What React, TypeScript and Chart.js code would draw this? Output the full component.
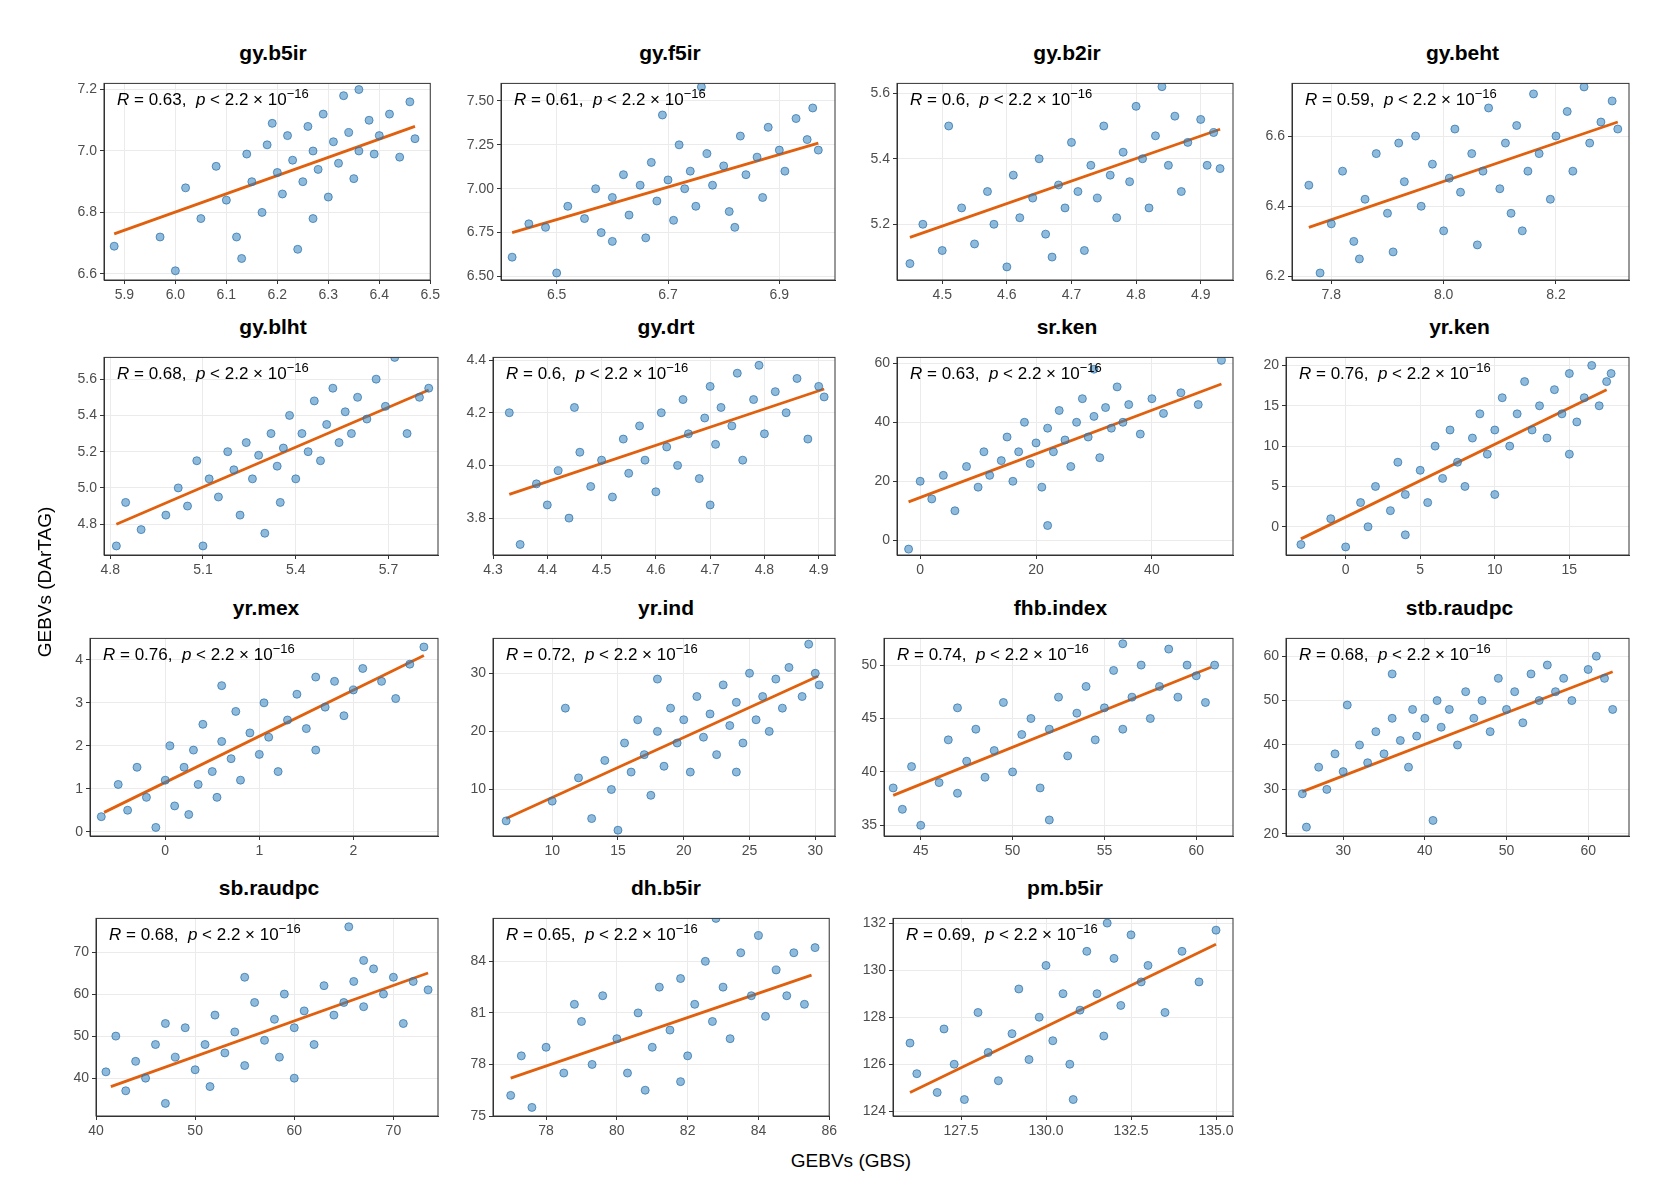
import React, { useEffect, useRef } from "react";
import { Chart, registerables } from "chart.js";
Chart.register(...registerables);

const titles = ["gy.b5ir","gy.f5ir","gy.b2ir","gy.beht","gy.blht","gy.drt","sr.ken","yr.ken","yr.mex","yr.ind","fhb.index","stb.raudpc","sb.raudpc","dh.b5ir","pm.b5ir"];
const rValues = ["0.63","0.61","0.6","0.59","0.68","0.6","0.63","0.76","0.76","0.72","0.74","0.68","0.68","0.65","0.69"];
const xRanges = [[5.86,6.5],[6.4,7.0],[4.43,4.95],[7.73,8.33],[4.78,5.86],[4.3,4.93],[-4,54],[-4,19],[-0.8,2.9],[5.5,31.5],[43,62],[23,65],[40,74.5],[76.5,86],[125.5,135.5]];
const yRanges = [[6.58,7.22],[6.48,7.6],[5.03,5.63],[6.19,6.75],[4.63,5.72],[3.66,4.41],[-5,62],[-3.5,21],[-0.1,4.5],[2,36],[34,52.5],[19.5,64],[31,78],[75,86.5],[123.8,132.2]];
const xTicks = [[5.9,6.0,6.1,6.2,6.3,6.4,6.5],[6.5,6.7,6.9],[4.5,4.6,4.7,4.8,4.9],[7.8,8.0,8.2],[4.8,5.1,5.4,5.7],[4.3,4.4,4.5,4.6,4.7,4.8,4.9],[0,20,40],[0,5,10,15],[0,1,2],[10,15,20,25,30],[45,50,55,60],[30,40,50,60],[40,50,60,70],[78,80,82,84,86],[127.5,130,132.5,135]];
const yTicks = [[6.6,6.8,7.0,7.2],[6.5,6.75,7.0,7.25,7.5],[5.2,5.4,5.6],[6.2,6.4,6.6],[4.8,5.0,5.2,5.4,5.6],[3.8,4.0,4.2,4.4],[0,20,40,60],[0,5,10,15,20],[0,1,2,3,4],[10,20,30],[35,40,45,50],[20,30,40,50,60],[40,50,60,70],[75,78,81,84],[124,126,128,130,132]];
const xDecimals = [1,1,1,1,1,1,0,0,0,0,0,0,0,0,1];
const yDecimals = [1,2,1,1,1,1,0,0,0,0,0,0,0,0,0];
const fitLines = [[5.88,6.73,6.47,7.08],[6.42,6.75,6.97,7.26],[4.45,5.16,4.93,5.49],[7.76,6.34,8.31,6.64],[4.82,4.8,5.83,5.54],[4.33,3.89,4.91,4.29],[-2,13,52,53],[-3,-1.5,17.5,17],[-0.65,0.45,2.75,4.1],[6.5,5,30.2,29.5],[43.5,37.8,60.8,49.8],[25,29.5,63,56.5],[41.5,38,73.5,65],[77,77.2,85.5,83.2],[126,124.8,135,131.1]];

const pts1 = [5.88,6.69,5.97,6.72,6.0,6.61,6.02,6.88,6.05,6.78,6.08,6.95,6.1,6.84,6.12,6.72,6.14,6.99,6.15,6.9,6.17,6.8,6.18,7.02,6.2,6.93,6.21,6.86,6.22,7.05,6.23,6.97,6.24,6.68,6.25,6.9,6.26,7.08,6.27,7.0,6.28,6.94,6.29,7.12,6.3,6.85,6.31,7.03,6.32,6.96,6.33,7.18,6.34,7.06,6.35,6.91,6.36,7.0,6.38,7.1,6.39,6.99,6.4,7.05,6.42,7.12,6.44,6.98,6.46,7.16,6.47,7.04,6.19,7.09,6.13,6.65,6.27,6.78,6.36,7.2];
const pts2 = [6.42,6.61,6.45,6.8,6.48,6.78,6.5,6.52,6.52,6.9,6.55,6.83,6.57,7.0,6.58,6.75,6.6,6.95,6.62,7.08,6.63,6.85,6.65,7.02,6.66,6.72,6.67,7.15,6.68,6.93,6.7,7.05,6.71,6.82,6.72,7.25,6.73,7.0,6.74,7.1,6.75,6.9,6.76,7.58,6.77,7.2,6.78,7.02,6.8,7.13,6.81,6.87,6.83,7.3,6.84,7.08,6.86,7.18,6.87,6.95,6.88,7.35,6.9,7.22,6.91,7.1,6.93,7.4,6.95,7.28,6.96,7.46,6.97,7.22,6.69,7.42,6.82,6.78,6.6,6.7];
const pts3 = [4.45,5.08,4.47,5.2,4.5,5.12,4.51,5.5,4.53,5.25,4.55,5.14,4.57,5.3,4.58,5.2,4.6,5.07,4.61,5.35,4.62,5.22,4.64,5.28,4.65,5.4,4.66,5.17,4.68,5.32,4.69,5.25,4.7,5.45,4.71,5.3,4.72,5.12,4.73,5.38,4.74,5.28,4.75,5.5,4.76,5.35,4.77,5.22,4.78,5.42,4.79,5.33,4.8,5.56,4.81,5.4,4.82,5.25,4.83,5.47,4.85,5.38,4.86,5.53,4.87,5.3,4.88,5.45,4.9,5.52,4.91,5.38,4.92,5.48,4.93,5.37,4.84,5.62,4.67,5.1];
const pts4 = [7.76,6.46,7.78,6.21,7.8,6.35,7.82,6.5,7.84,6.3,7.86,6.42,7.88,6.55,7.9,6.38,7.91,6.27,7.93,6.47,7.95,6.6,7.96,6.4,7.98,6.52,8.0,6.33,8.01,6.48,8.02,6.62,8.03,6.44,8.05,6.55,8.06,6.29,8.07,6.5,8.08,6.68,8.1,6.45,8.11,6.58,8.12,6.38,8.13,6.63,8.15,6.5,8.16,6.72,8.17,6.55,8.19,6.42,8.2,6.6,8.22,6.67,8.23,6.5,8.25,6.74,8.26,6.58,8.28,6.64,8.3,6.7,8.31,6.62,7.92,6.58,8.14,6.33,7.85,6.25];
const pts5 = [4.82,4.68,4.85,4.92,4.9,4.77,4.98,4.85,5.02,5.0,5.05,4.9,5.08,5.15,5.1,4.68,5.12,5.05,5.15,4.95,5.18,5.2,5.2,5.1,5.22,4.85,5.24,5.25,5.26,5.05,5.28,5.18,5.3,4.75,5.32,5.3,5.34,5.12,5.36,5.22,5.38,5.4,5.4,5.05,5.42,5.3,5.44,5.2,5.46,5.48,5.48,5.15,5.5,5.35,5.52,5.55,5.54,5.25,5.56,5.42,5.58,5.3,5.6,5.5,5.63,5.38,5.66,5.6,5.69,5.45,5.72,5.72,5.76,5.3,5.8,5.5,5.83,5.55,5.35,4.92];
const pts6 = [4.33,4.2,4.35,3.7,4.38,3.93,4.4,3.85,4.42,3.98,4.44,3.8,4.46,4.05,4.48,3.92,4.5,4.02,4.52,3.88,4.54,4.1,4.55,3.97,4.57,4.15,4.58,4.02,4.6,3.9,4.61,4.2,4.62,4.07,4.64,4.0,4.65,4.25,4.66,4.12,4.68,3.95,4.69,4.18,4.7,4.3,4.71,4.08,4.72,4.22,4.74,4.15,4.75,4.35,4.76,4.02,4.78,4.25,4.79,4.38,4.8,4.12,4.82,4.28,4.84,4.2,4.86,4.33,4.88,4.1,4.9,4.3,4.91,4.26,4.45,4.22,4.7,3.85];
const pts7 = [-2,-3,0,20,2,14,4,22,6,10,8,25,10,18,11,30,12,22,14,27,15,35,16,20,17,30,18,40,19,26,20,33,21,18,22,38,23,30,24,44,25,34,26,25,27,40,28,48,29,35,30,42,31,28,32,45,33,38,34,52,35,40,36,46,38,36,40,48,42,43,45,50,48,46,52,61,22,5,30,58];
const pts8 = [-3,-2.2,-1,1,0,-2.5,1,3,1.5,0,2,5,3,2,3.5,8,4,4,5,7,5.5,3,6,10,6.5,6,7,12,7.5,8,8,5,8.5,11,9,14,9.5,9,10,12,10.5,16,11,10,11.5,14,12,18,12.5,12,13,15,13.5,11,14,17,14.5,14,15,19,15.5,13,16,16,16.5,20,17,15,17.5,18,15,9,4,-1,10,4,17.8,19];
const pts9 = [-0.68,0.35,-0.5,1.1,-0.4,0.5,-0.3,1.5,-0.2,0.8,-0.1,0.1,0,1.2,0.05,2.0,0.1,0.6,0.2,1.5,0.25,0.4,0.3,1.9,0.35,1.1,0.4,2.5,0.5,1.4,0.55,0.8,0.6,2.1,0.7,1.7,0.75,2.8,0.8,1.2,0.9,2.3,1.0,1.8,1.05,3.0,1.1,2.2,1.2,1.4,1.3,2.6,1.4,3.2,1.5,2.4,1.6,3.6,1.7,2.9,1.8,3.5,1.9,2.7,2.0,3.3,2.1,3.8,2.3,3.5,2.45,3.1,2.6,3.9,2.75,4.3,1.6,1.9,0.6,3.4];
const pts10 = [6.5,4.6,10,8,11,24,12,12,13,5,14,15,14.5,10,15,3,15.5,18,16,13,16.5,22,17,16,17.5,9,18,20,18.5,14,19,24,19.5,18,20,22,20.5,13,21,26,21.5,19,22,23,22.5,16,23,28,23.5,21,24,25,24.5,18,25,30,25.5,22,26,26,26.5,20,27,29,27.5,24,28,31,29,26,29.5,35,30,30,30.3,28,18,29,24,13];
const pts11 = [43.5,38.5,44,36.5,44.5,40.5,45,35,46,39,46.5,43,47,38,47.5,41,48,44,48.5,39.5,49,42,49.5,46.5,50,40,50.5,43.5,51,45,51.5,38.5,52,44,52.5,47,53,41.5,53.5,45.5,54,48,54.5,43,55,46,55.5,49.5,56,44,56.5,47,57,50,57.5,45,58,48,58.5,51.5,59,47,59.5,50,60,49,60.5,46.5,61,50,52,35.5,47,46,56,52];
const pts12 = [25,29,25.5,21.5,27,35,28,30,29,38,30,34,30.5,49,32,40,33,36,34,43,35,38,36,46,37,41,38,35,38.5,48,39,42,40,46,41,23,41.5,50,42,44,43,48,44,40,45,52,46,46,47,50,48,43,49,55,50,48,51,52,52,45,53,56,54,50,55,58,56,52,57,55,58,50,60,57,61,60,62,55,63,48,36,56];
const pts13 = [41,41.5,42,50,43,37,44,44,45,40,46,48,47,34,48,45,49,52,50,42,51,48,51.5,38,52,55,53,46,54,51,55,43,56,58,57,49,58,54,58.5,45,59,60,60,52,61,56,62,48,63,62,64,55,65,58,65.5,76,66,63,67,57,68,66,69,60,70,64,71,53,72,63,73.5,61,55,64,47,53,60,40,67,68];
const pts14 = [77,76.2,77.3,78.5,77.6,75.5,78,79,78.5,77.5,79,80.5,79.3,78,79.6,82,80,79.5,80.3,77.5,80.6,81,81,79,81.2,82.5,81.5,80,81.8,83,82,78.5,82.2,81.5,82.5,84,82.7,80.5,83,82.5,83.2,79.5,83.5,84.5,83.8,82,84,85.5,84.2,80.8,84.5,83.5,84.8,82,85,84.5,85.3,81.5,85.6,84.8,80.8,76.5,78.8,81.5,82.8,86.5,81.8,77];
const pts15 = [126,126.9,126.2,125.6,126.8,124.8,127,127.5,127.3,126,127.6,124.5,128,128.2,128.3,126.5,128.6,125.3,129,127.3,129.2,129.2,129.5,126.2,129.8,128,130,130.2,130.2,127,130.5,129,130.7,126,131,128.3,131.2,130.8,131.5,129,131.7,127.2,132,130.5,132.2,128.5,132.5,131.5,132.8,129.5,133,130.2,133.5,128.2,134,130.8,134.5,129.5,135,131.7,130.8,124.5,131.8,132];
const points = [pts1,pts2,pts3,pts4,pts5,pts6,pts7,pts8,pts9,pts10,pts11,pts12,pts13,pts14,pts15];

// plot boxes [left, right, top, bottom] in reference-view units, scaled by S
const S = 1.068;
const boxes = [
  [97,414,68,262],[469,786,68,262],[840,1158,68,262],[1210,1529,68,262],
  [97,414,325,520],[462,786,325,520],[840,1158,325,520],[1204,1529,325,520],
  [84,414,588,783],[462,786,588,783],[828,1158,588,783],[1204,1529,588,783],
  [90,414,850,1045],[462,786,850,1045],[836,1158,850,1045],
].map((bx) => bx.map((v) => Math.round(v * S)));

const FONT = "'Liberation Sans', Arial, sans-serif";
const YW = 47;
const TF = 14;

function Panel({ i }: { i: number }) {
  const ref = useRef<HTMLCanvasElement>(null);
  const [l, r, t, b] = boxes[i];
  useEffect(() => {
    const p = points[i];
    const data: { x: number; y: number }[] = [];
    for (let k = 0; k < p.length; k += 2) data.push({ x: p[k], y: p[k + 1] });
    const f = fitLines[i];
    const annot = {
      id: "annot",
      afterDraw(chart: any) {
        const ctx = chart.ctx;
        const a = chart.chartArea;
        let x = a.left + 13;
        const y = a.top + 22;
        ctx.save();
        ctx.fillStyle = "#000";
        ctx.textBaseline = "alphabetic";
        const parts: [string, string, number][] = [
          ["R", "italic 17px " + FONT, 0],
          [" = " + rValues[i] + ",  ", "17px " + FONT, 0],
          ["p", "italic 17px " + FONT, 0],
          [" < 2.2 × 10", "17px " + FONT, 0],
          ["−16", "13px " + FONT, -7],
        ];
        for (const [s, font, dy] of parts) {
          ctx.font = font;
          ctx.fillText(s, x, y + dy);
          x += ctx.measureText(s).width;
        }
        ctx.restore();
      },
    };
    const fmt = (d: number) => (v: any) => Number(v).toFixed(d);
    const chart = new Chart(ref.current!, {
      type: "scatter",
      data: {
        datasets: [
          { data, backgroundColor: "rgba(49,130,189,0.55)", borderColor: "rgba(40,110,170,0.7)", borderWidth: 1, pointRadius: 4 } as any,
          { type: "line", data: [{ x: f[0], y: f[1] }, { x: f[2], y: f[3] }], borderColor: "#e0600e", borderWidth: 2.8, pointRadius: 0, fill: false } as any,
        ],
      },
      options: {
        animation: false,
        responsive: false,
        layout: { padding: { top: 1, right: 1, left: 0, bottom: 0 } },
        plugins: { legend: { display: false }, tooltip: { enabled: false } },
        scales: {
          x: {
            type: "linear", min: xRanges[i][0], max: xRanges[i][1],
            afterBuildTicks: (s: any) => { s.ticks = xTicks[i].map((v) => ({ value: v })); },
            afterFit: (s: any) => { s.height = 27; },
            ticks: { callback: fmt(xDecimals[i]), font: { size: TF, family: FONT }, color: "#4d4d4d", maxRotation: 0, padding: 3 },
            grid: { color: "#ebebeb", tickLength: 4, tickColor: "#333" },
            border: { color: "#333", width: 1 },
          },
          y: {
            type: "linear", min: yRanges[i][0], max: yRanges[i][1],
            afterBuildTicks: (s: any) => { s.ticks = yTicks[i].map((v) => ({ value: v })); },
            afterFit: (s: any) => { s.width = YW; },
            ticks: { callback: fmt(yDecimals[i]), font: { size: TF, family: FONT }, color: "#4d4d4d", padding: 3 },
            grid: { color: "#ebebeb", tickLength: 4, tickColor: "#333" },
            border: { color: "#333", width: 1 },
          },
        },
      } as any,
      plugins: [annot, {
        id: "box",
        afterDraw(chart: any) {
          const a = chart.chartArea;
          const ctx = chart.ctx;
          ctx.save();
          ctx.strokeStyle = "#333";
          ctx.lineWidth = 1;
          ctx.strokeRect(a.left, a.top, a.right - a.left, a.bottom - a.top);
          ctx.restore();
        },
      }],
    });
    return () => chart.destroy();
  }, [i]);
  const w = r - l + YW + 1;
  const h = b - t + 28;
  return (
    <>
      <div style={{ position: "absolute", left: l, top: t - 32, width: r - l, textAlign: "center", font: "bold 21px " + FONT, color: "#000" }}>{titles[i]}</div>
      <canvas ref={ref} width={w} height={h} style={{ position: "absolute", left: l - YW, top: t - 1, width: w, height: h }} />
    </>
  );
}

export default function App() {
  return (
    <div style={{ position: "relative", width: 1670, height: 1200, background: "#fff", margin: -8 }}>
      {titles.map((_, i) => <Panel key={i} i={i} />)}
      <div style={{ position: "absolute", left: Math.round(797 * S) - 100, top: Math.round(1077 * S), width: 200, textAlign: "center", font: "19px " + FONT }}>GEBVs (GBS)</div>
      <div style={{ position: "absolute", left: Math.round(42 * S) - 100, top: Math.round(545 * S) - 11, width: 200, textAlign: "center", font: "19px " + FONT, transform: "rotate(-90deg)" }}>GEBVs (DArTAG)</div>
    </div>
  );
}
